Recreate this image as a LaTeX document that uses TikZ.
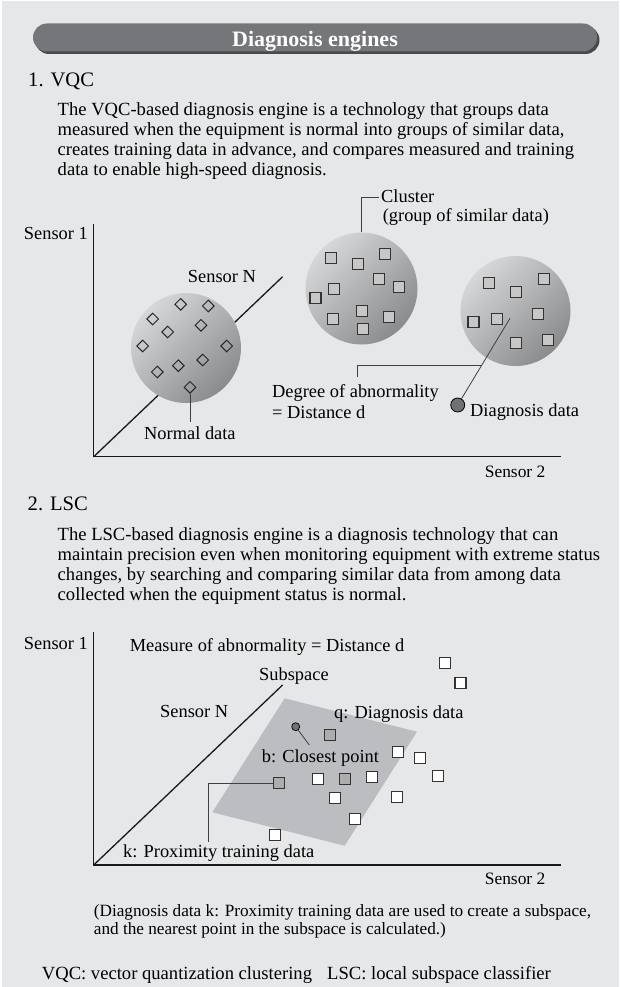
\documentclass[tikz,border=0pt]{standalone}
\usepackage{fontspec}
\setmainfont{Liberation Serif}
\usetikzlibrary{shapes.geometric}
\definecolor{bg}{HTML}{E6E7E8}
\definecolor{barc}{HTML}{75767A}
\definecolor{shadowc}{HTML}{4A4A4C}
\definecolor{cl}{HTML}{D6D7D8}
\definecolor{cd}{HTML}{8A8B8D}
\definecolor{subc}{HTML}{BCBDC0}
\definecolor{dotc}{HTML}{707174}
\begin{document}
\begin{tikzpicture}[x=1pt,y=-1pt,
  body/.style={inner sep=0, anchor=base west, font=\fontsize{18.6}{20}\selectfont},
  lab/.style={inner sep=0, anchor=base west, font=\fontsize{18.4}{20}\selectfont},
  labe/.style={inner sep=0, anchor=base east, font=\fontsize{17.4}{20}\selectfont},
  foot/.style={inner sep=0, anchor=base west, font=\fontsize{17.2}{19}\selectfont},
  head/.style={inner sep=0, anchor=base west, font=\fontsize{20.6}{22}\selectfont},
  sq/.style={rectangle, draw=black!80, line width=1.3pt, minimum size=11pt, inner sep=0},
  csq/.style={sq, fill=black!22},
  wsq/.style={sq, fill=white},
  gsq/.style={sq, fill=black!32},
  dia/.style={diamond, draw=black!85, line width=1pt, minimum width=12pt, minimum height=12pt, inner sep=0},
  axisline/.style={line width=1.5pt, black!90},
  lead/.style={line width=0.8pt, black!75},
  cluster/.style={circle, inner sep=0, top color=cl, bottom color=cd, shading angle=45}
]
\useasboundingbox (0,0) rectangle (619,987);
\fill[white] (0,0) rectangle (619,987);
\fill[bg] (1.5,1.5) rectangle (619,987);

% title bar
\fill[shadowc, rounded corners=14pt] (35,26) rectangle (599.5,54);
\fill[barc, rounded corners=14pt] (33,23.5) rectangle (597,51.5);
\node (title) [anchor=base, inner sep=0, text=white, font=\bfseries\fontsize{22}{24}\selectfont] at (315,47) {Diagnosis engines};

% section 1 text
\node (h1) [head] at (28,87) {1. VQC};
\node (p1a) [body] at (57.5,116) {The VQC-based diagnosis engine is a technology that groups data};
\node (p1b) [body] at (57.5,136) {measured when the equipment is normal into groups of similar data,};
\node (p1c) [body] at (57.5,156) {creates training data in advance, and compares measured and training};
\node (p1d) [body] at (57.5,176) {data to enable high-speed diagnosis.};

% graph 1 axes
\coordinate (y1) at (93.7,224);
\coordinate (o1) at (93.7,456.7);
\coordinate (x1) at (561,456.7);
\coordinate (n1) at (282.6,276.7);
\draw[axisline] (y1) -- (o1) -- (x1);
\draw[line width=1.3pt, black!90] (o1) -- (n1);
\node (s1a) [lab] at (23.7,239) {Sensor 1};
\node (sNa) [lab] at (187.7,282.7) {Sensor N};
\node (s2a) [labe] at (545.5,477.7) {Sensor 2};

% clusters
\node (c1) [cluster, minimum size=110pt] at (186,348) {};
\node (c2) [cluster, minimum size=112pt] at (361.5,288.5) {};
\node (c3) [cluster, minimum size=110pt] at (515.5,311) {};

% diamonds (normal data)
\foreach \x/\y [count=\i] in {180.7/304.3, 208.3/306, 152.7/319, 201/325.3, 167.7/332, 142.7/346, 226.7/346, 202.7/360, 178.3/365.7, 157.3/372, 190/387.3}
  \node (d\i) [dia] at (\x,\y) {};

% squares in cluster 2
\foreach \x/\y [count=\i] in {331/257.7, 357.7/264.3, 385/254.3, 379/279, 399/287.3, 334/289.3, 315.4/298.3, 361.7/310.7, 389/316.7, 332.8/319, 362.8/329}
  \node (a\i) [csq] at (\x,\y) {};
% squares in cluster 3
\foreach \x/\y [count=\i] in {489/283.3, 515.8/291.7, 544.3/279, 473.5/322.3, 497.2/319, 538.3/314.3, 515.8/342.7, 548.2/340}
  \node (b\i) [csq] at (\x,\y) {};

% cluster label
\coordinate (ct) at (361.5,197);
\coordinate (ctr) at (379,197);
\draw[lead] (c2.north) -- (ct) -- (ctr);
\node (clab) [lab] at (381,203) {Cluster};
\node (clab2) [lab] at (382.6,221) {(group of similar data)};

% normal data label
\coordinate (nd) at (190,421.7);
\draw[lead] (d11.south) -- (d11.south |- nd);
\node (ndl) [lab] at (144,439) {Normal data};

% diagnosis data and distance
\node (dd) [circle, fill=dotc, draw=black, line width=0.8pt, minimum size=14pt, inner sep=0] at (457.7,405) {};
\coordinate (c3p) at (510,318.3);
\draw[lead] (dd) -- (c3p);
\coordinate (dg1) at (357.7,376.7);
\coordinate (dg2) at (357.7,365);
\coordinate (dgE) at (481,365);
\draw[lead] (dg1) -- (dg2) -- (dgE);
\node (dgl) [lab] at (272,397.7) {Degree of abnormality};
\node (dgl2) [lab] at (272,418.7) {= Distance d};
\node (ddl) [lab] at (470,416.7) {Diagnosis data};

% section 2 text
\node (h2) [head] at (27.5,510) {2. LSC};
\node (p2a) [body] at (57.5,540) {The LSC-based diagnosis engine is a diagnosis technology that can};
\node (p2b) [body] at (57.5,560) {maintain precision even when monitoring equipment with extreme status};
\node (p2c) [body] at (57.5,580) {changes, by searching and comparing similar data from among data};
\node (p2d) [body] at (57.5,600) {collected when the equipment status is normal.};

% graph 2
\coordinate (y2) at (93.7,632);
\coordinate (o2) at (93.7,865);
\coordinate (x2) at (561,865);
\coordinate (n2) at (282.6,685);
\fill[subc] (284.6,698.3) -- (417,731.7) -- (344.7,845.7) -- (212.3,812.3) -- cycle;
\draw[axisline] (y2) -- (o2) -- (x2);
\draw[line width=1.3pt, black!90] (o2) -- (n2);
\node (s1b) [lab] at (23.7,649) {Sensor 1};
\node (mab) [lab] at (129.6,651) {Measure of abnormality = Distance d};
\node (sub) [lab] at (259,680) {Subspace};
\node (sNb) [lab] at (160,717.7) {Sensor N};
\node (s2b) [labe] at (545.5,884) {Sensor 2};

% squares of graph 2
\node (qb) [gsq] at (330,735) {};
\node (sk) [gsq] at (279.3,783.3) {};
\node (sm) [gsq] at (345,779) {};
\foreach \x/\y [count=\i] in {444.7/663.3, 460.5/682.7, 398.3/751.7, 420.3/758.3, 318.3/779, 372.3/777.3, 438/776, 335/798.3, 396.7/797.3, 355.3/818.7, 275/835}
  \node (w\i) [wsq] at (\x,\y) {};

% q dot
\node (qd) [circle, fill=dotc, draw=black, line width=0.7pt, minimum size=8pt, inner sep=0] at (295.7,726.7) {};
\coordinate (qe) at (309.3,745);
\draw[lead] (qd) -- (qe);
\node (ql) [lab] at (334,718.7) {q: Diagnosis data};
\node (bl) [lab] at (261.7,762.7) {b: Closest point};

% proximity line
\coordinate (kc) at (208.7,783.3);
\coordinate (kb) at (208.7,842);
\draw[lead] (sk.west) -- (kc) -- (kb);
\node (kl) [lab] at (123,857.7) {k: Proximity training data};

% footnote
\node (f1) [foot] at (93.7,916) {(Diagnosis data k: Proximity training data are used to create a subspace,};
\node (f2) [foot] at (93.7,934.3) {and the nearest point in the subspace is calculated.)};

\node (g1) [body] at (41.7,979) {VQC: vector quantization clustering};
\node (g2) [body] at (327,979) {LSC: local subspace classifier};
\end{tikzpicture}
\end{document}
